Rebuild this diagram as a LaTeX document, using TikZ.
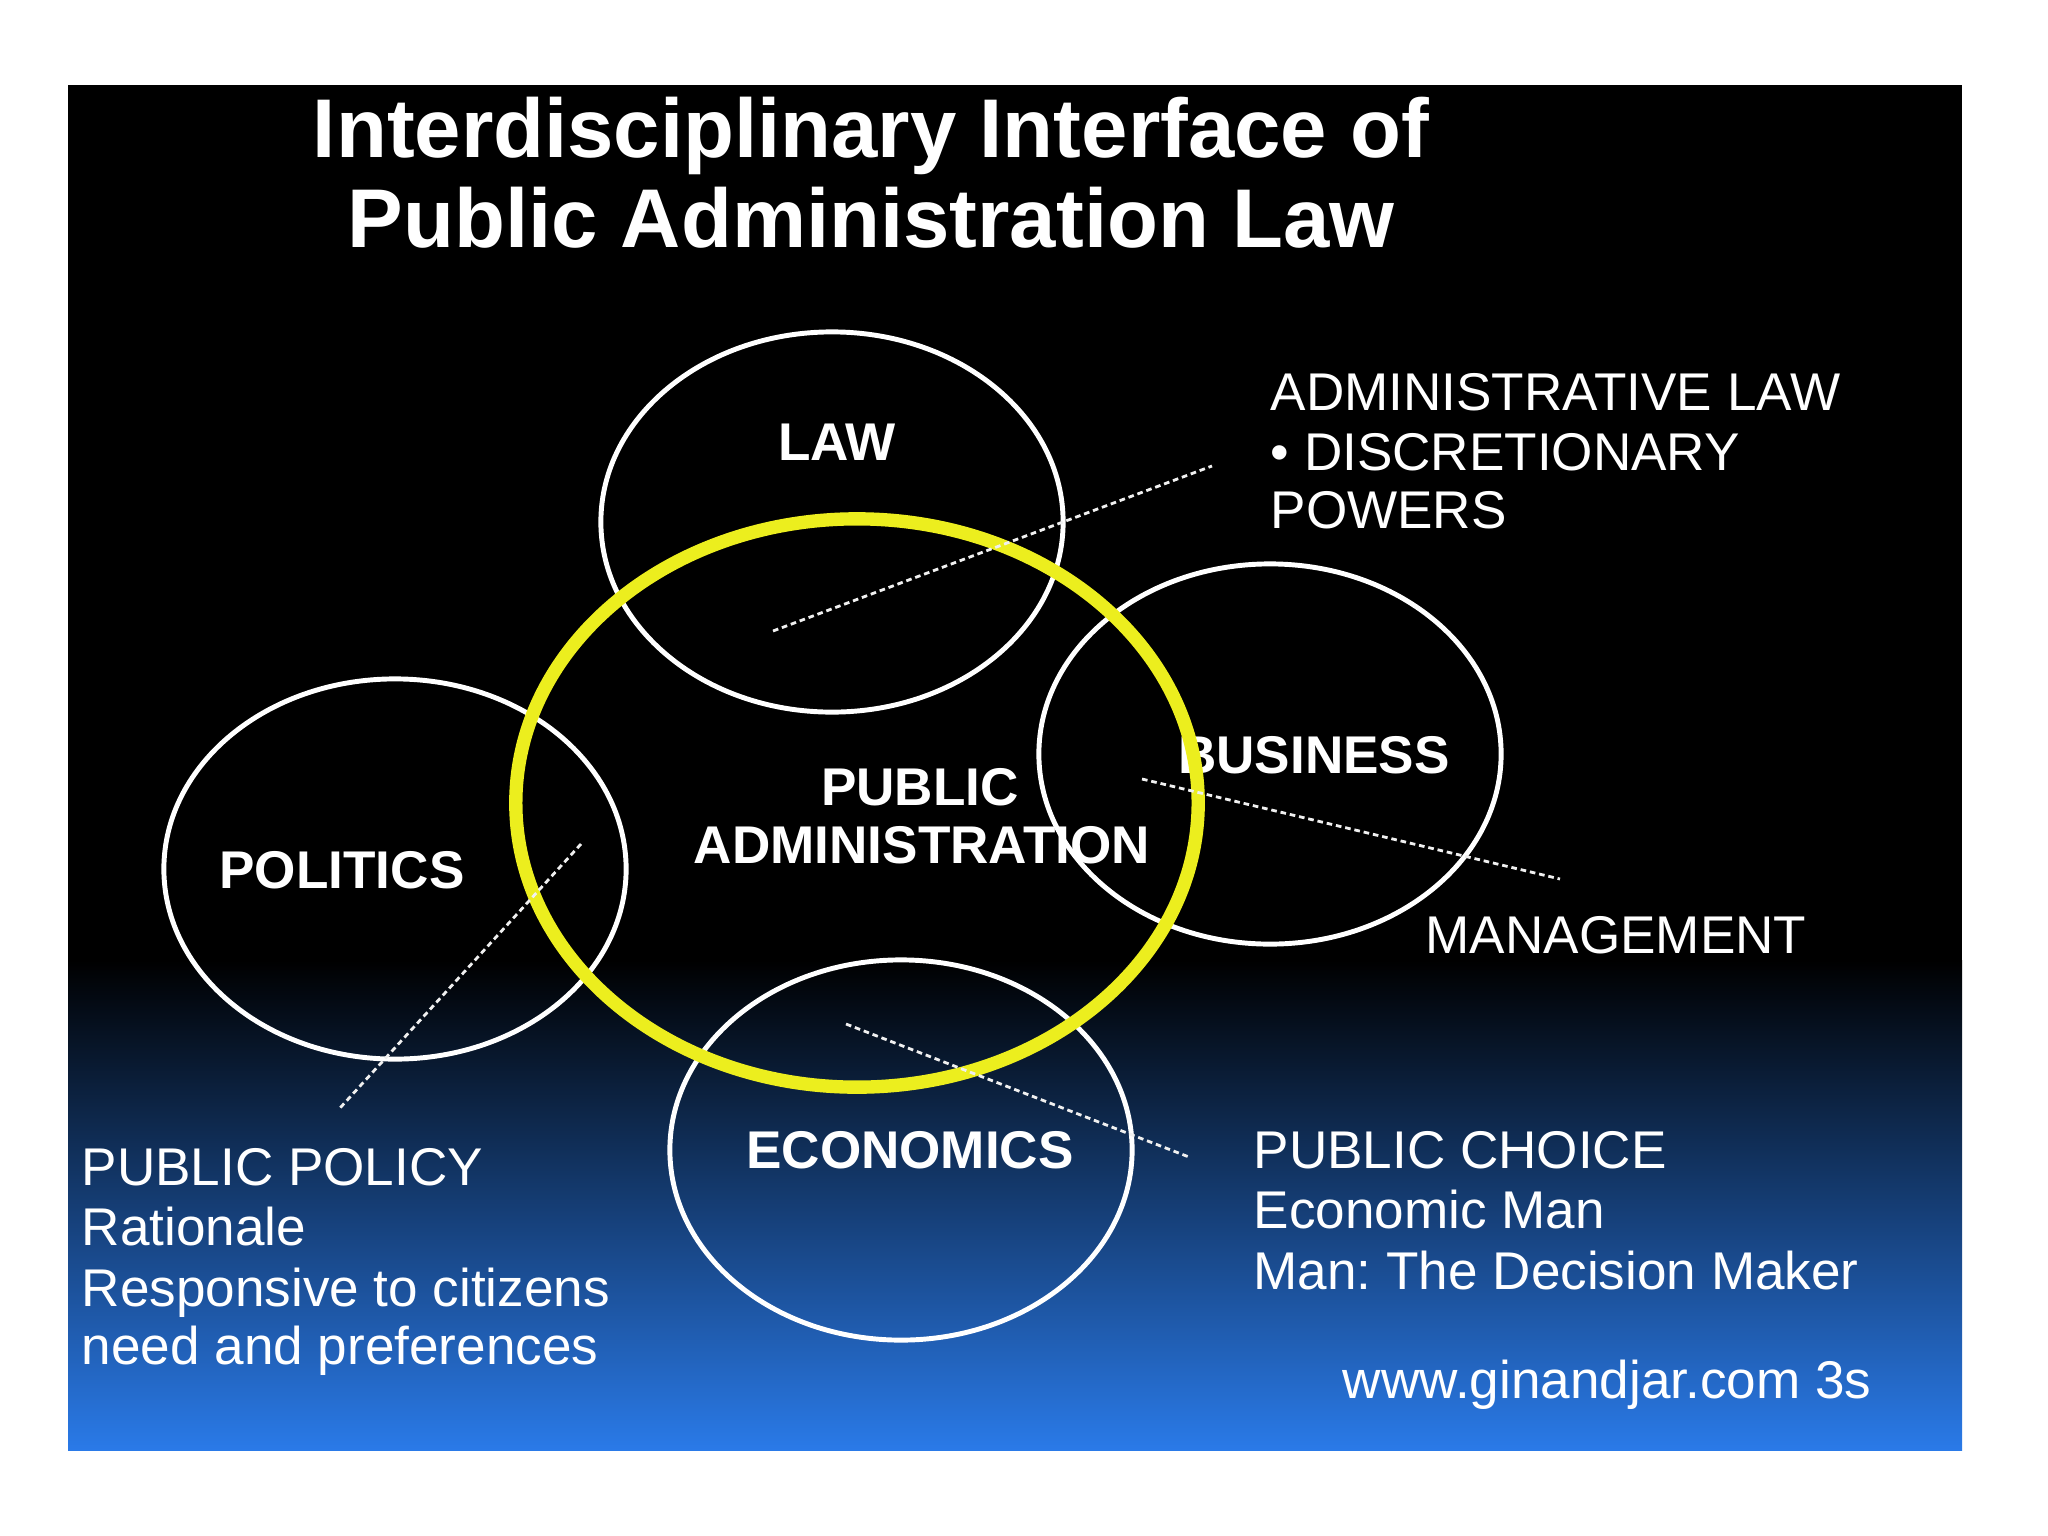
\documentclass[tikz,border=0pt]{standalone}
\usepackage{fontspec}
\setmainfont{Liberation Sans}
\usetikzlibrary{shapes.geometric}
\definecolor{slideblue}{RGB}{42,122,232}
\definecolor{slidenavy}{RGB}{24,66,176}
\definecolor{payellow}{RGB}{236,238,30}
\tikzset{
  ring/.style={draw=white, line width=1.4pt, ellipse, minimum width=4.62cm, minimum height=3.80cm, inner sep=0pt},
  paring/.style={draw=payellow, line width=3.8pt, ellipse, minimum width=6.82cm, minimum height=5.68cm, inner sep=0pt},
  lbl/.style={text=white, font=\fontsize{15.1}{18}\selectfont\bfseries, inner sep=0pt, anchor=base},
  txt/.style={text=white, font=\fontsize{15.1}{18}\selectfont, inner sep=0pt, anchor=base west},
  ttl/.style={text=white, font=\fontsize{23.7}{28}\selectfont\bfseries, inner sep=0pt, anchor=base},
  leader/.style={draw=white!88!gray, line width=0.8pt, dash pattern=on 1.6pt off 1.1pt},
}
\frenchspacing
\begin{document}
\begin{tikzpicture}[x=0.01cm, y=-0.01cm]
\useasboundingbox (0,0) rectangle (2048,1536);
\fill[white] (0,0) rectangle (2048,1536);
% slide background
\fill[black] (68,85) rectangle (1962,962);
\shade[top color=black, middle color=slidenavy, bottom color=slideblue] (68,960) rectangle (1962,1450);

% title
\node[ttl] (title1) at (871,157) {Interdisciplinary Interface of};
\node[ttl] (title2) at (871,247) {Public Administration Law};

% circle labels
\node[lbl] (lawlbl) at (837,460) {LAW};
\node[lbl] (publbl1) at (920,805) {PUBLIC};
\node[lbl] (publbl2) at (922,863) {ADMINISTRATION};
\node[lbl] (buslbl) at (1314,773) {BUSINESS};
\node[lbl] (pollbl) at (342,888) {POLITICS};
\node[lbl] (ecolbl) at (910,1168) {ECONOMICS};

% side texts
\node[txt] (adm1) at (1270,410) {ADMINISTRATIVE LAW};
\node[txt] (adm2) at (1270,470) {\textbullet\ DISCRETIONARY};
\node[txt] (adm3) at (1270,528) {POWERS};
\node[txt] (mgmt) at (1425,953) {MANAGEMENT};
\node[txt] (pp1) at (81,1185) {PUBLIC POLICY};
\node[txt] (pp2) at (81,1245) {Rationale};
\node[txt] (pp3) at (81,1306) {Responsive to citizens};
\node[txt] (pp4) at (81,1364) {need and preferences};
\node[txt] (pc1) at (1253,1168) {PUBLIC CHOICE};
\node[txt] (pc2) at (1253,1228) {Economic Man};
\node[txt] (pc3) at (1253,1289) {Man: The Decision Maker};
\node[txt, anchor=base east] (web) at (1872,1398) {www.ginandjar.com 3s};

% circles
\node[ring] (law) at (832,522) {};
\node[ring] (business) at (1270,754) {};
\node[ring] (politics) at (395,869) {};
\node[ring] (economics) at (901,1150) {};
\node[paring] (pubadm) at (857,803) {};

% leader lines
\coordinate (lawA) at (773,631);
\coordinate (lawB) at (1212,466);
\coordinate (busA) at (1142,779);
\coordinate (busB) at (1560,879);
\coordinate (polA) at (581,844);
\coordinate (polB) at (340,1108);
\coordinate (ecoA) at (846,1024);
\coordinate (ecoB) at (1189,1157);
\draw[leader] (lawA) -- (lawB);
\draw[leader] (busA) -- (busB);
\draw[leader] (polA) -- (polB);
\draw[leader] (ecoA) -- (ecoB);
\end{tikzpicture}
\end{document}
